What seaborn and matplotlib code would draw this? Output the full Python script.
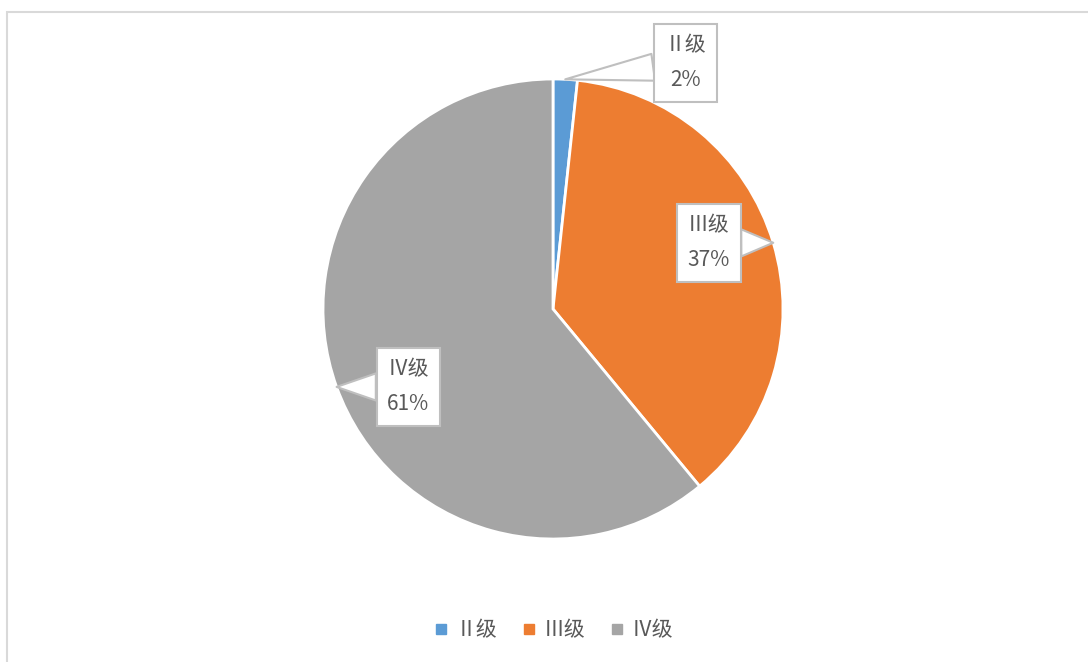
import matplotlib
matplotlib.use("Agg")
import matplotlib.pyplot as plt
from matplotlib.lines import Line2D
from matplotlib.patches import Rectangle
import numpy as np
import seaborn as sns

categories = ['Ⅱ级', 'Ⅲ级', 'Ⅳ级']
shares = [1.7, 37.3, 61.0]
colors = ['#5B9BD5', '#ED7D31', '#A5A5A5']

sns.set_theme(style='white')
plt.rcParams['font.family'] = ['Noto Sans CJK SC', 'DejaVu Sans']
palette = sns.color_palette(colors)

fig = plt.figure(figsize=(10.88, 6.62), dpi=100)
fig.patch.set_facecolor('white')
fig.patches.append(Rectangle((7/1088, -0.05), 1.2, 1 - 12/662 + 0.05, transform=fig.transFigure,
                             fill=False, ec='#D9D9D9', lw=1.5))

ax = fig.add_axes([265.5/1088, 65.5/662, 575/1088, 575/662])
wedges, _ = ax.pie(shares, colors=palette, startangle=90, counterclock=False,
                   wedgeprops=dict(edgecolor='white', linewidth=2))
ax.set_xlim(-1.25, 1.25)
ax.set_ylim(-1.25, 1.25)
ax.set_aspect('equal')
ax.axis('off')

# label positions relative to the pie (style only)
label_pos = [(0.575, 1.07), (0.678, 0.287), (-0.630, -0.339)]
total = sum(shares)
start = 0
for cat, val, pos in zip(categories, shares, label_pos):
    mid = (start + val / 2) / total * 2 * np.pi
    start += val
    tip = (np.sin(mid), np.cos(mid))
    ax.annotate(f'{cat}\n{round(val)}%', xy=tip, xytext=pos, ha='center', va='center',
                fontsize=15, color='#595959', linespacing=1.75,
                bbox=dict(boxstyle='square,pad=0.5', fc='white', ec='#BFBFBF', lw=1.5),
                arrowprops=dict(arrowstyle='wedge,tail_width=1.3,shrink_factor=0.5',
                                fc='white', ec='#BFBFBF', lw=1.5, shrinkA=0, shrinkB=0))

handles = [Line2D([], [], marker='s', ls='none', color=c, markersize=7) for c in palette]
fig.legend(handles, categories, loc='center', bbox_to_anchor=(553/1088, 1 - 630/662),
           ncol=3, frameon=False, fontsize=15, labelcolor='#595959',
           handletextpad=0.3, columnspacing=1.1, handlelength=0.8)

fig.savefig('out.png', dpi=100, facecolor='white')
